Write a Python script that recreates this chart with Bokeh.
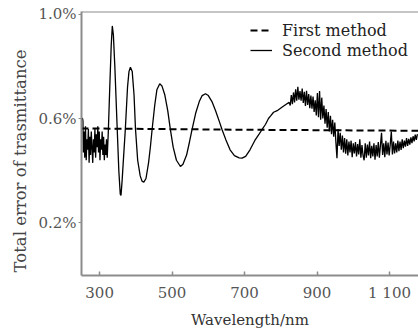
import numpy as np
from bokeh.plotting import figure
from bokeh.models import (FixedTicker, Legend, LegendItem, Range1d, Span, Title)
from bokeh.embed import file_html
from bokeh.resources import INLINE

# ---------------- data ----------------
first_wl = [250, 700, 1180]
first_val = [0.562, 0.557, 0.553]

smooth_wl = [250, 253, 254, 255, 257, 259, 261, 263, 265, 267, 269, 271, 273, 275, 277, 279,
             281, 283, 285, 287, 289, 291, 293, 295, 297, 299, 301, 303, 305, 307, 309, 311,
             313, 315, 317, 319, 321,
             324, 328, 332, 335, 338, 342, 348, 353, 357, 359, 362, 366, 371, 377, 381, 385,
             390, 395, 399, 405, 412, 417, 422, 428, 435, 440, 445, 452, 458, 466, 472, 480,
             488, 495, 503, 512, 523, 530, 540, 548, 555, 565, 575, 583, 592, 600, 610, 620,
             630, 638, 648, 660, 672, 685, 693, 703, 715, 728, 740, 748, 758, 766, 772, 780,
             790, 803, 815, 823]
smooth_val = [0.60, 0.60, 0.59, 0.47, 0.55, 0.45, 0.57, 0.44, 0.52, 0.48, 0.56, 0.43, 0.53, 0.46,
              0.55, 0.49, 0.43, 0.52, 0.47, 0.56, 0.45, 0.54, 0.49, 0.57, 0.47, 0.55, 0.44, 0.52,
              0.48, 0.55, 0.46, 0.53, 0.44, 0.50, 0.46, 0.52, 0.45,
              0.55, 0.72, 0.88, 0.955, 0.92, 0.80, 0.58, 0.40, 0.31, 0.305, 0.36, 0.45, 0.56,
              0.72, 0.78, 0.797, 0.78, 0.69, 0.56, 0.44, 0.38, 0.36, 0.356, 0.37, 0.43, 0.49,
              0.56, 0.65, 0.71, 0.733, 0.725, 0.69, 0.63, 0.56, 0.49, 0.44, 0.416, 0.425, 0.46,
              0.51, 0.557, 0.62, 0.665, 0.688, 0.695, 0.688, 0.665, 0.63, 0.59, 0.557, 0.52,
              0.48, 0.458, 0.449, 0.448, 0.455, 0.48, 0.515, 0.54, 0.557, 0.578, 0.60, 0.61,
              0.624, 0.63, 0.643, 0.655, 0.662]

noisy_wl = list(range(826, 1180, 3))
noisy_val = [0.650, 0.690, 0.655, 0.700, 0.662, 0.712, 0.668, 0.722, 0.672, 0.705,
             0.668, 0.715, 0.660, 0.702, 0.648, 0.706, 0.652, 0.694, 0.640, 0.688,
             0.638, 0.684, 0.625, 0.670, 0.612, 0.698, 0.605, 0.705, 0.595, 0.680,
             0.600, 0.650, 0.580, 0.636, 0.565, 0.625, 0.550, 0.610, 0.540, 0.595,
             0.530, 0.585, 0.510, 0.448, 0.560, 0.495, 0.545, 0.480, 0.535, 0.470,
             0.525, 0.465, 0.520, 0.458, 0.512, 0.470, 0.515, 0.452, 0.505, 0.466,
             0.510, 0.455, 0.502, 0.462, 0.520, 0.450, 0.498, 0.458, 0.440, 0.505,
             0.450, 0.500, 0.458, 0.512, 0.448, 0.495, 0.455, 0.505, 0.442, 0.498,
             0.455, 0.510, 0.450, 0.498, 0.545, 0.460, 0.505, 0.452, 0.515, 0.462,
             0.508, 0.458, 0.500, 0.550, 0.462, 0.512, 0.466, 0.505, 0.470, 0.515,
             0.475, 0.512, 0.480, 0.520, 0.486, 0.515, 0.492, 0.525, 0.495, 0.522,
             0.500, 0.528, 0.506, 0.532, 0.512, 0.538, 0.518, 0.540]

second_wl = smooth_wl + noisy_wl
second_val = smooth_val + noisy_val

x_ticks = [300, 500, 700, 900, 1100]
x_tick_labels = {1100: "1 100"}
y_ticks = [0.2, 0.6, 1.0]
y_tick_labels = {0.2: "0.2%", 0.6: "0.6%", 1.0: "1.0%"}

X_MIN, X_MAX = 250, 1180
Y_MIN, Y_MAX = -0.002, 1.0104

FONT = "DejaVu Serif"
GRAY = "#8c8c8c"

p = figure(width=418, height=331, output_backend="svg", toolbar_location=None,
           x_range=Range1d(X_MIN, X_MAX), y_range=Range1d(Y_MIN, Y_MAX),
           min_border_left=81, min_border_right=0, min_border_top=11, min_border_bottom=56,
           x_axis_label="Wavelength/nm")
p.outline_line_color = None
p.grid.visible = False
p.background_fill_color = "white"
p.border_fill_color = "white"

r1 = p.line(first_wl, first_val, line_color="black", line_width=2, line_dash="7 4")
r2 = p.line(second_wl, second_val, line_color="black", line_width=1.3)

xa = p.xaxis[0]
xa.ticker = FixedTicker(ticks=x_ticks)
xa.major_label_overrides = x_tick_labels
xa.major_tick_in = 4
xa.major_tick_out = 0
xa.minor_tick_line_color = None
xa.axis_line_color = GRAY
xa.axis_line_width = 2
xa.major_tick_line_color = GRAY
xa.major_tick_line_width = 1.5
xa.major_label_text_font = FONT
xa.major_label_text_font_size = "15px"
xa.major_label_text_color = "#555555"
xa.major_label_standoff = 8
xa.axis_label_text_font = FONT
xa.axis_label_text_font_size = "15px"
xa.axis_label_text_font_style = "normal"
xa.axis_label_text_color = "#333333"
xa.axis_label_standoff = 6

ya = p.yaxis[0]
ya.ticker = FixedTicker(ticks=y_ticks)
ya.major_label_overrides = y_tick_labels
ya.major_tick_in = 0
ya.major_tick_out = 3
ya.minor_tick_line_color = None
ya.axis_line_color = GRAY
ya.axis_line_width = 2
ya.major_tick_line_color = GRAY
ya.major_label_text_font = FONT
ya.major_label_text_font_size = "15px"
ya.major_label_text_color = "#555555"
ya.major_label_standoff = 2

top_line = Span(location=Y_MAX, dimension="width", line_color=GRAY, line_width=2)
p.add_layout(top_line)

ytitle = Title(text="Total error of trasmittance", align="left", offset=3,
               text_font=FONT, text_font_size="16.5px", text_font_style="normal",
               text_color="#444444", standoff=12)
p.add_layout(ytitle, "left")

legend = Legend(items=[LegendItem(label="First method", renderers=[r1]),
                       LegendItem(label="Second method", renderers=[r2])],
                location=(169, 215), orientation="vertical",
                border_line_color=None, background_fill_alpha=0,
                label_text_font=FONT, label_text_font_size="16px", label_text_color="#222222",
                glyph_width=22, glyph_height=20, label_height=20, spacing=0,
                label_standoff=10, padding=0, margin=0)
p.add_layout(legend)

open("out.html", "w").write(file_html(p, INLINE))
